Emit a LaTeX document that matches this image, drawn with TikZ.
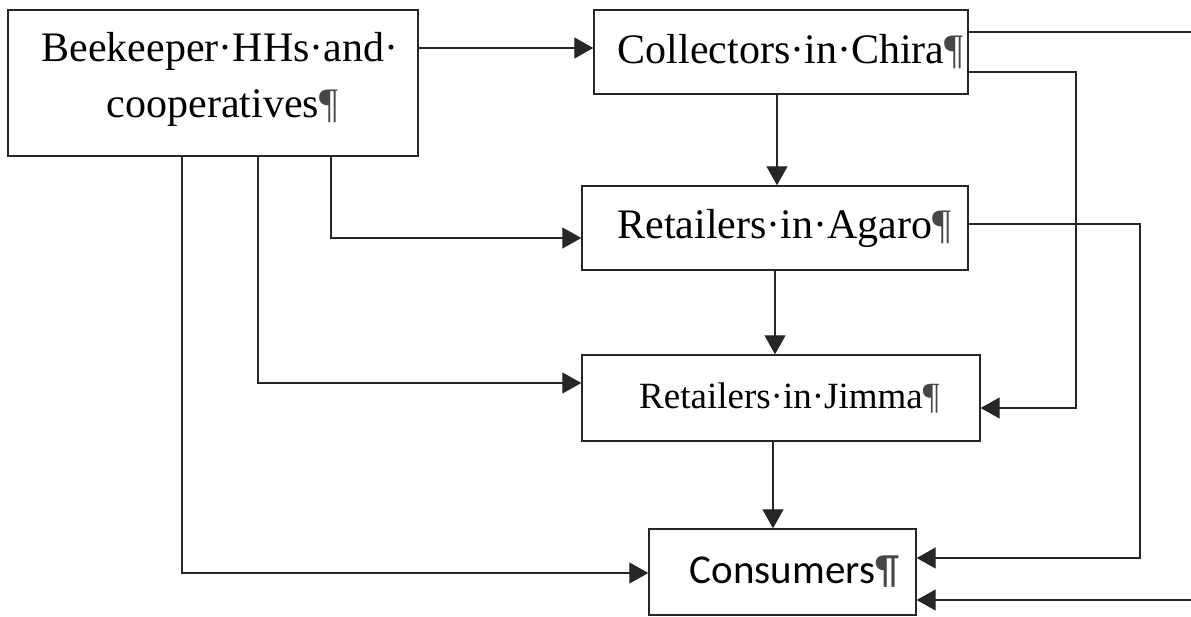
\documentclass[tikz,border=0pt]{standalone}
\usepackage{fontspec}
\setmainfont{Liberation Serif}
\newfontfamily\carlitofont{Carlito}
\usetikzlibrary{arrows.meta}
\newcommand\pilc{\rlap{\textcolor{black!72}{¶}}}
\begin{document}
\begin{tikzpicture}[x=1pt,y=-1pt,
  box/.style={draw=black!85, line width=1.4pt, inner sep=0pt, align=center, font=\fontsize{42}{56}\selectfont},
  conn/.style={draw=black!85, line width=1.3pt},
  arr/.style={conn, -{Triangle[length=19pt,width=21pt]}}]
\useasboundingbox (0,0) rectangle (1191,617);
\node[box, minimum width=410pt, minimum height=146pt] (A) at (213,83) {Beekeeper·HHs·and\rlap{·}\\cooperatives\pilc\rule[-17pt]{0pt}{1pt}};
\node[box, minimum width=374pt, minimum height=84pt] (C) at (781,52) {Collectors·in·Chira\pilc};
\node[box, minimum width=386pt, minimum height=84pt] (G) at (775,228) {Retailers·in·Agaro\pilc};
\node[box, minimum width=398pt, minimum height=86pt, font=\fontsize{37}{44}\selectfont] (J) at (781,398) {Retailers·in·Jimma\pilc};
\node[box, minimum width=267pt, minimum height=86pt, font=\carlitofont\fontsize{41}{49}\selectfont] (K) at (782.5,572) {Consumers\pilc};
\coordinate (e1) at (1191,32);
\coordinate (b1) at (1076,72);
\coordinate (b2) at (1076,408);
\coordinate (b3) at (1140,224);
\coordinate (b4) at (1140,558);
\coordinate (e2) at (1191,600);
\coordinate (l1) at (331,238);
\coordinate (l2) at (258,383);
\coordinate (l3) at (182,573);
\path ([yshift=4pt]C.west) coordinate (cw);
\path ([xshift=-4pt]C.south) coordinate (cs);
\path ([xshift=-8pt]J.south) coordinate (js);
\draw[arr] (cw -| A.east) -- (cw);
\draw[arr] (cs) -- (cs |- G.north);
\draw[arr] (G.south) -- (G.south |- J.north);
\draw[arr] (js) -- (js |- K.north);
\draw[conn] (e1 -| C.east) -- (e1);
\draw[arr] (b1 -| C.east) -- (b1) -- (b2) -- (b2 -| J.east);
\draw[arr] (b3 -| G.east) -- (b3) -- (b4) -- (b4 -| K.east);
\draw[arr] (e2) -- (e2 -| K.east);
\draw[arr] (l1 |- A.south) -- (l1) -- (l1 -| G.west);
\draw[arr] (l2 |- A.south) -- (l2) -- (l2 -| J.west);
\draw[arr] (l3 |- A.south) -- (l3) -- (l3 -| K.west);
\end{tikzpicture}
\end{document}
